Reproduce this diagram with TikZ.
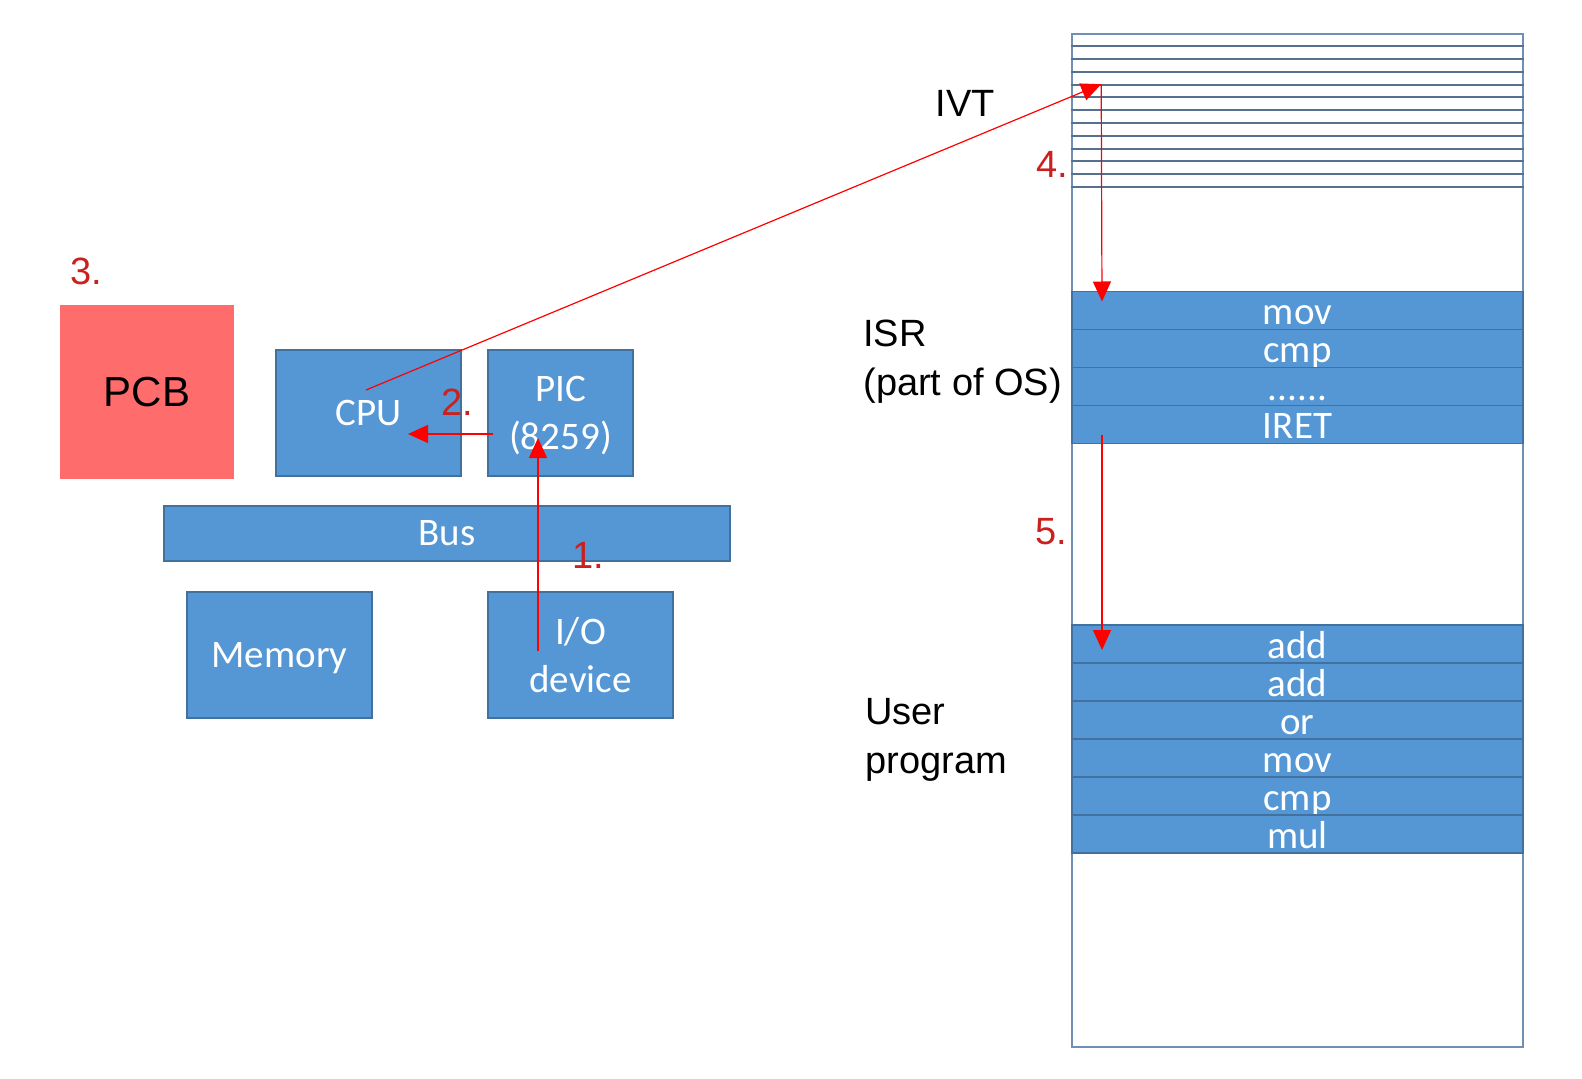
\documentclass[tikz,border=0pt]{standalone}
\usepackage{fontspec}
\setmainfont{Liberation Sans}
\newfontfamily\officefont{Carlito}
\usetikzlibrary{positioning}
\usetikzlibrary{calc}
\usetikzlibrary{arrows.meta}
\definecolor{boxblue}{HTML}{5597D5}
\definecolor{boxedge}{HTML}{41719C}
\definecolor{pcbred}{HTML}{FF6C6C}
\definecolor{stepred}{HTML}{C9211E}
\definecolor{tableline}{HTML}{56708F}
\definecolor{tableedge}{HTML}{6F8FB5}
\tikzset{
	block/.style={
		draw=boxedge, line width=0.75pt, fill=boxblue, text=white,
		font=\officefont\fontsize{19.5}{24}\selectfont, align=center,
		inner sep=0pt, minimum height=63pt
	},
	pcb/.style={
		fill=pcbred, minimum width=87pt, minimum height=87pt, inner sep=0pt,
		font=\fontsize{21}{24}\selectfont
	},
	column/.style={
		draw=tableedge, line width=0.8pt, minimum width=225.5pt, minimum height=506.5pt,
		inner sep=0pt
	},
	ivtline/.style={draw=tableline, line width=1pt},
	slot/.style={
		block, minimum width=225.5pt, minimum height=19pt, outer sep=0pt,
		text height=14pt, text depth=0pt
	},
	steplabel/.style={text=stepred, inner sep=0pt, font=\fontsize{19}{22}\selectfont},
	caption/.style={inner sep=0pt, align=left, font=\fontsize{19}{24.5}\selectfont},
	signal/.style={draw=red, line width=0.6pt, -{Triangle[length=10pt,width=9pt]}}
}
\def\sixdots{......}

\begin{document}
\begin{tikzpicture}[x=0.5pt, y=-0.5pt]
    \useasboundingbox (0,0) rectangle (1582,1079);

    % hardware
    \node[pcb] (pcb) at (147,392) {PCB};
    \node[block, minimum width=92.5pt] (cpu) at (368.5,413) {CPU};
    \node[block, minimum width=72.5pt, text depth=0pt] (pic) at (560.5,413) {PIC\\(8259)};
    \node[block, minimum width=283pt, minimum height=27.5pt] (bus) at (447,533.5) {Bus};
    \node[block, minimum width=92.5pt, text depth=0pt] (memory) at (279.5,655) {Memory};
    \node[block, minimum width=92.5pt] (io) at (580.5,655) {I/O\\device};

    % memory column
    \node[column] (mem) at (1297.5,540.5) {};
    \foreach \k in {1,...,12}
        \draw[ivtline] ($(mem.north west)+(0,12.83*\k)$) -- ($(mem.north east)+(0,12.83*\k)$);

    \node[slot] (isr-1) at (1297.5,310.5) {mov};
    \foreach \txt [count=\i from 2] in {cmp,\sixdots,IRET}{
        \pgfmathtruncatemacro\prev{\i-1}
        \node[slot, below=0pt of isr-\prev] (isr-\i) {\txt};
    }
    \node[slot] (usr-1) at (1297.5,644) {add};
    \foreach \txt [count=\i from 2] in {add,or,mov,cmp,mul}{
        \pgfmathtruncatemacro\prev{\i-1}
        \node[slot, below=0pt of usr-\prev] (usr-\i) {\txt};
    }

    % captions
    \node[caption] (ivt) at (965,103) {IVT};
    \node[caption, anchor=north west] (isr) at (863,320) {ISR\\(part of OS)};
    \node[caption, anchor=north west] (user) at (865,698) {User\\program};

    % steps
    \node[steplabel] (step-1) at (588,555) {1.};
    \node[steplabel] (step-2) at (457,402) {2.};
    \node[steplabel] (step-3) at (86,271) {3.};
    \node[steplabel] (step-4) at (1052,164) {4.};
    \node[steplabel] (step-5) at (1051,532) {5.};

    \coordinate (io-tap) at ($(io.center)+(-42.5,-4)$);
    \coordinate (pic-in) at ($(pic.center)+(-22.5,25)$);
    \coordinate (pic-out) at ($(pic.center)+(-67.5,21)$);
    \coordinate (cpu-in) at ($(cpu.center)+(39.5,21)$);
    \coordinate (cpu-out) at ($(cpu.center)+(-2.5,-23)$);
    \coordinate (ivt-entry) at ($(mem.north west)+(30,51)$);
    \coordinate (isr-entry) at ($(isr-1.north west)+(30,10)$);
    \coordinate (isr-exit) at ($(isr-4.south west)+(30,-9)$);
    \coordinate (usr-entry) at ($(usr-1.north west)+(30,25)$);

    \draw[signal] (io-tap) -- (pic-in);
    \draw[signal] (pic-out) -- (cpu-in);
    \draw[signal] (cpu-out) -- (ivt-entry);
    \draw[signal] (ivt-entry) -- (isr-entry);
    \draw[signal] (isr-exit) -- (usr-entry);
\end{tikzpicture}
\end{document}
